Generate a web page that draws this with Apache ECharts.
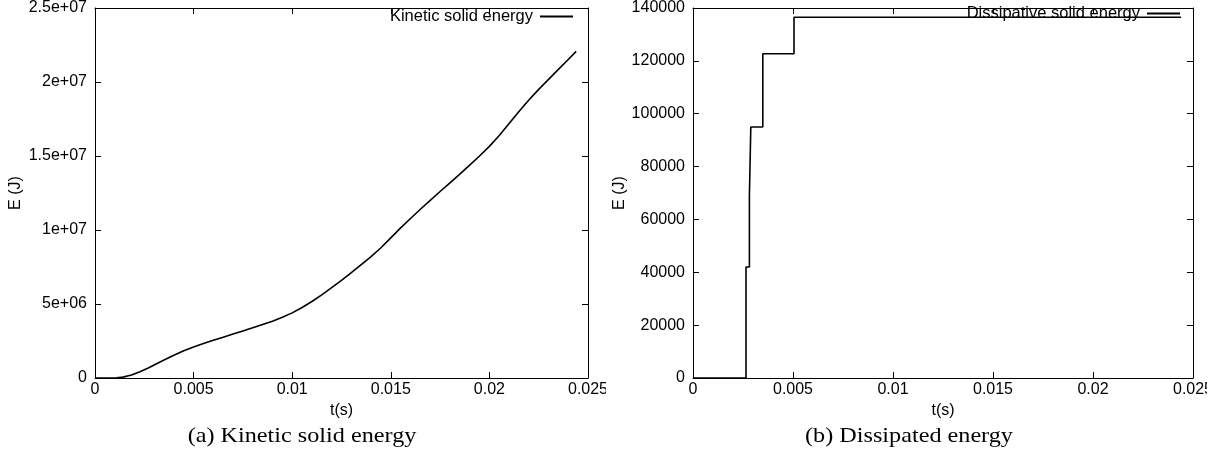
<!DOCTYPE html>
<html>
<head>
<meta charset="utf-8">
<script src="https://cdn.jsdelivr.net/npm/echarts@6/dist/echarts.min.js"></script>
<style>
  html, body { margin: 0; padding: 0; background: #fff; }
  #chart { width: 1223px; height: 456px; }
</style>
</head>
<body>
<div id="chart"></div>
<script>
// Kinetic solid energy (J) over time (s)
const kineticTime = [0, 0.0008, 0.0011, 0.00142, 0.00185, 0.00228, 0.0027, 0.0031, 0.0035, 0.004,
  0.0045, 0.005, 0.0055, 0.006, 0.0065, 0.007, 0.0075, 0.008, 0.0085, 0.009, 0.0095, 0.01,
  0.0105, 0.011, 0.0115, 0.012, 0.0125, 0.013, 0.0135, 0.014, 0.0145, 0.015, 0.0155, 0.016,
  0.0165, 0.017, 0.0175, 0.018, 0.0185, 0.019, 0.0195, 0.02, 0.0205, 0.021, 0.0215, 0.022,
  0.0225, 0.023, 0.0235, 0.024, 0.0244];
const kineticEnergy = [0, 0, 0.02e6, 0.06e6, 0.2e6, 0.42e6, 0.68e6, 0.95e6, 1.22e6, 1.54e6,
  1.84e6, 2.1e6, 2.33e6, 2.55e6, 2.76e6, 2.97e6, 3.18e6, 3.39e6, 3.61e6, 3.84e6, 4.1e6, 4.4e6,
  4.76e6, 5.17e6, 5.62e6, 6.1e6, 6.6e6, 7.12e6, 7.66e6, 8.2e6, 8.8e6, 9.47e6, 10.14e6, 10.78e6,
  11.4e6, 12.0e6, 12.6e6, 13.19e6, 13.78e6, 14.38e6, 15.0e6, 15.65e6, 16.38e6, 17.2e6, 18.0e6, 18.78e6,
  19.5e6, 20.18e6, 20.85e6, 21.52e6, 22.07e6];

// Dissipative solid energy (J): a staircase over time (s)
const dissipTime = [0, 0.00265, 0.00282, 0.00289, 0.00349, 0.00505, 0.0244];
const dissipEnergy = [0, 42000, 69000, 95000, 122700, 136500, 136500];

// Tick labels
const timeTickLabels = ['0', '0.005', '0.01', '0.015', '0.02', '0.025'];
const kineticTickLabels = ['0', '5e+06', '1e+07', '1.5e+07', '2e+07', '2.5e+07'];
const dissipTickLabels = ['0', '20000', '40000', '60000', '80000', '100000', '120000', '140000'];

const SANS = "'Liberation Sans', Arial, Helvetica, sans-serif";
const SERIF = "'Liberation Serif', 'Times New Roman', serif";
const INK = '#000';

function zip(xs, ys) { return xs.map((x, i) => [x, ys[i]]); }

function tickFmt(labels, step) {
  return v => { const i = Math.round(v / step); return labels[i] !== undefined ? labels[i] : ''; };
}

const lineStyle = { color: INK, width: 1 };
const labelStyle = { color: INK, fontFamily: SANS, fontSize: 16 };

function timeAxes(gridIndex) {
  const base = {
    type: 'value', gridIndex, min: 0, max: 0.025, interval: 0.005,
    splitLine: { show: false },
    axisLine: { show: true, onZero: false, lineStyle },
    axisTick: { show: true, inside: true, length: 6, lineStyle }
  };
  return [
    Object.assign({}, base, {
      position: 'bottom',
      name: 't(s)', nameLocation: 'middle', nameGap: 18,
      nameTextStyle: labelStyle,
      axisLabel: Object.assign({ margin: 4, formatter: tickFmt(timeTickLabels, 0.005), showMaxLabel: true }, labelStyle)
    }),
    Object.assign({}, base, { position: 'top', axisLabel: { show: false } })
  ];
}

function energyAxes(gridIndex, max, step, labels, nameGap) {
  const base = {
    type: 'value', gridIndex, min: 0, max, interval: step,
    splitLine: { show: false },
    axisLine: { show: true, onZero: false, lineStyle },
    axisTick: { show: true, inside: true, length: 6, lineStyle }
  };
  return [
    Object.assign({}, base, {
      position: 'left',
      name: 'E (J)', nameLocation: 'middle', nameGap, nameRotate: 90,
      nameTextStyle: labelStyle,
      axisLabel: Object.assign({ margin: 8, formatter: tickFmt(labels, step), showMaxLabel: true }, labelStyle)
    }),
    Object.assign({}, base, { position: 'right', axisLabel: { show: false } })
  ];
}

const legendBase = {
  orient: 'horizontal', align: 'right', icon: 'rect',
  itemWidth: 33, itemHeight: 2, top: 3,
  textStyle: { color: INK, fontFamily: SANS, fontSize: 16.5, padding: [0, 2, 0, 0] },
  itemStyle: { color: INK }
};

const chart = echarts.init(document.getElementById('chart'), null, { renderer: 'canvas' });
chart.setOption({
  animation: false,
  backgroundColor: '#fff',
  grid: [
    { left: 95, right: 635, top: 6, bottom: 78 },
    { left: 693, right: 30, top: 6, bottom: 78 }
  ],
  xAxis: [...timeAxes(0), ...timeAxes(1)],
  yAxis: [
    ...energyAxes(0, 2.5e7, 5e6, kineticTickLabels, 71),
    ...energyAxes(1, 140000, 20000, dissipTickLabels, 59)
  ],
  legend: [
    Object.assign({}, legendBase, { right: 645, data: ['Kinetic solid energy'] }),
    Object.assign({}, legendBase, { right: 38, top: 0, data: ['Dissipative solid energy'] })
  ],
  series: [
    {
      name: 'Kinetic solid energy', type: 'line', xAxisIndex: 0, yAxisIndex: 0,
      data: zip(kineticTime, kineticEnergy),
      showSymbol: false, smooth: false,
      lineStyle: { color: INK, width: 1.6, join: 'round' }, itemStyle: { color: INK }
    },
    {
      name: 'Dissipative solid energy', type: 'line', xAxisIndex: 2, yAxisIndex: 2,
      data: zip(dissipTime, dissipEnergy),
      showSymbol: false, step: 'end',
      lineStyle: { color: INK, width: 1.6 }, itemStyle: { color: INK }
    }
  ],
  graphic: [
    // each sub-figure is cut off at its right edge, trimming the last tick label
    { type: 'rect', shape: { x: 606, y: 380, width: 10, height: 20 }, z: 100,
      style: { fill: '#fff' } },
    { type: 'rect', shape: { x: 1207, y: 380, width: 16, height: 20 }, z: 100,
      style: { fill: '#fff' } },
    { type: 'text', x: 302, y: 436, scaleX: 1.1, z: 100,
      style: { text: '(a) Kinetic solid energy', fill: INK, font: '22px ' + SERIF,
               textAlign: 'center', textVerticalAlign: 'middle' } },
    { type: 'text', x: 909, y: 436, scaleX: 1.1, z: 100,
      style: { text: '(b) Dissipated energy', fill: INK, font: '22px ' + SERIF,
               textAlign: 'center', textVerticalAlign: 'middle' } }
  ]
});
</script>
</body>
</html>
